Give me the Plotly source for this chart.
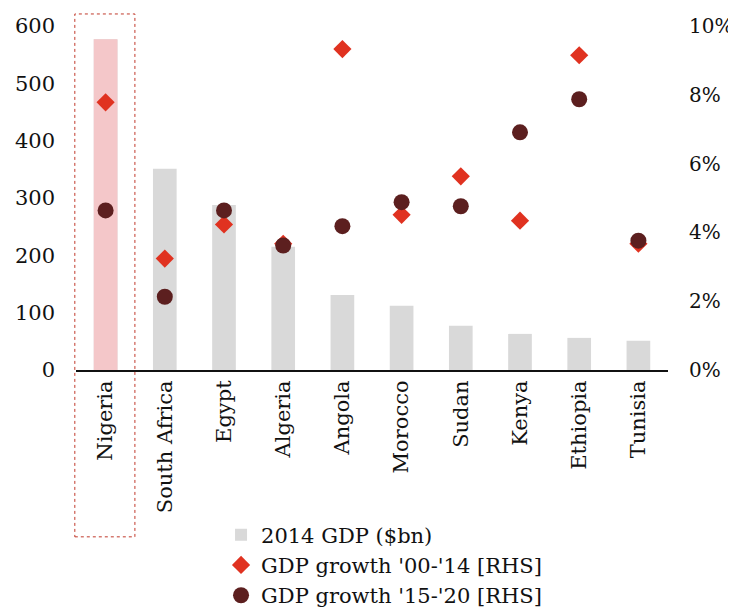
import plotly.graph_objects as go

countries = ["Nigeria", "South Africa", "Egypt", "Algeria", "Angola", "Morocco",
             "Sudan", "Kenya", "Ethiopia", "Tunisia"]
gdp_2014 = [577, 351, 288, 215, 131, 112, 77, 63, 56, 51]
growth_00_14 = [7.78, 3.24, 4.23, 3.67, 9.33, 4.51, 5.63, 4.34, 9.15, 3.67]
growth_15_20 = [4.64, 2.13, 4.64, 3.62, 4.18, 4.88, 4.76, 6.91, 7.87, 3.76]
left_ticks = [0, 100, 200, 300, 400, 500, 600]
right_ticks = [0, 2, 4, 6, 8, 10]
right_labels = ["0%", "2%", "4%", "6%", "8%", "10%"]
highlight = ["Nigeria"]

FONT = "Georgia, 'DejaVu Serif', serif"
FS = 21

hl_vals = [g for c, g in zip(countries, gdp_2014) if c in highlight]

fig = go.Figure()
fig.add_trace(go.Bar(
    x=countries, y=gdp_2014, name="2014 GDP ($bn)",
    marker=dict(color="#d9d9d9", line=dict(width=0)), width=0.4,
))
fig.add_trace(go.Bar(
    x=highlight, y=hl_vals, showlegend=False,
    marker=dict(color="#f4c7c9", line=dict(width=0)), width=0.4,
))
fig.add_trace(go.Scatter(
    x=countries, y=growth_00_14, name="GDP growth '00-'14 [RHS]",
    mode="markers", yaxis="y2",
    marker=dict(symbol="diamond", size=14, color="#e03220"),
))
fig.add_trace(go.Scatter(
    x=countries, y=growth_15_20, name="GDP growth '15-'20 [RHS]",
    mode="markers", yaxis="y2",
    marker=dict(symbol="circle", size=16, color="#5c1f1f"),
))

# dotted highlight frame around the first category (paper coords, unclipped)
fig.add_shape(type="rect", xref="paper", yref="paper",
              x0=-0.002, x1=0.0995, y0=-0.485, y1=1.035,
              line=dict(color="#c0392b", width=1, dash="dot"),
              fillcolor="rgba(0,0,0,0)")

fig.update_layout(
    width=728, height=603,
    margin=dict(l=68, r=68, t=18, b=241, autoexpand=False),
    paper_bgcolor="white", plot_bgcolor="white",
    font=dict(family=FONT, size=FS, color="#111"),
    showlegend=True,
    barmode="overlay",
    legend=dict(x=0.245, y=-0.420, xanchor="left", yanchor="top",
                font=dict(size=FS), tracegroupgap=0, itemwidth=30,
                bgcolor="rgba(0,0,0,0)"),
    xaxis=dict(range=[-0.5, len(countries) - 0.5], tickangle=-90,
               showgrid=False, showline=True, linecolor="#111",
               linewidth=2, ticks="", tickfont=dict(size=FS), zeroline=False,
               automargin=False),
    yaxis=dict(range=[0, 600], tickvals=left_ticks,
               showgrid=False, zeroline=False, showline=False, ticks="",
               ticklabelstandoff=20, tickfont=dict(size=FS), automargin=False),
    yaxis2=dict(range=[0, 10], overlaying="y", side="right",
                tickvals=right_ticks, ticktext=right_labels,
                showgrid=False, zeroline=False, showline=False, ticks="",
                ticklabelstandoff=20, tickfont=dict(size=20), automargin=False),
)

fig.write_html("out.html")
